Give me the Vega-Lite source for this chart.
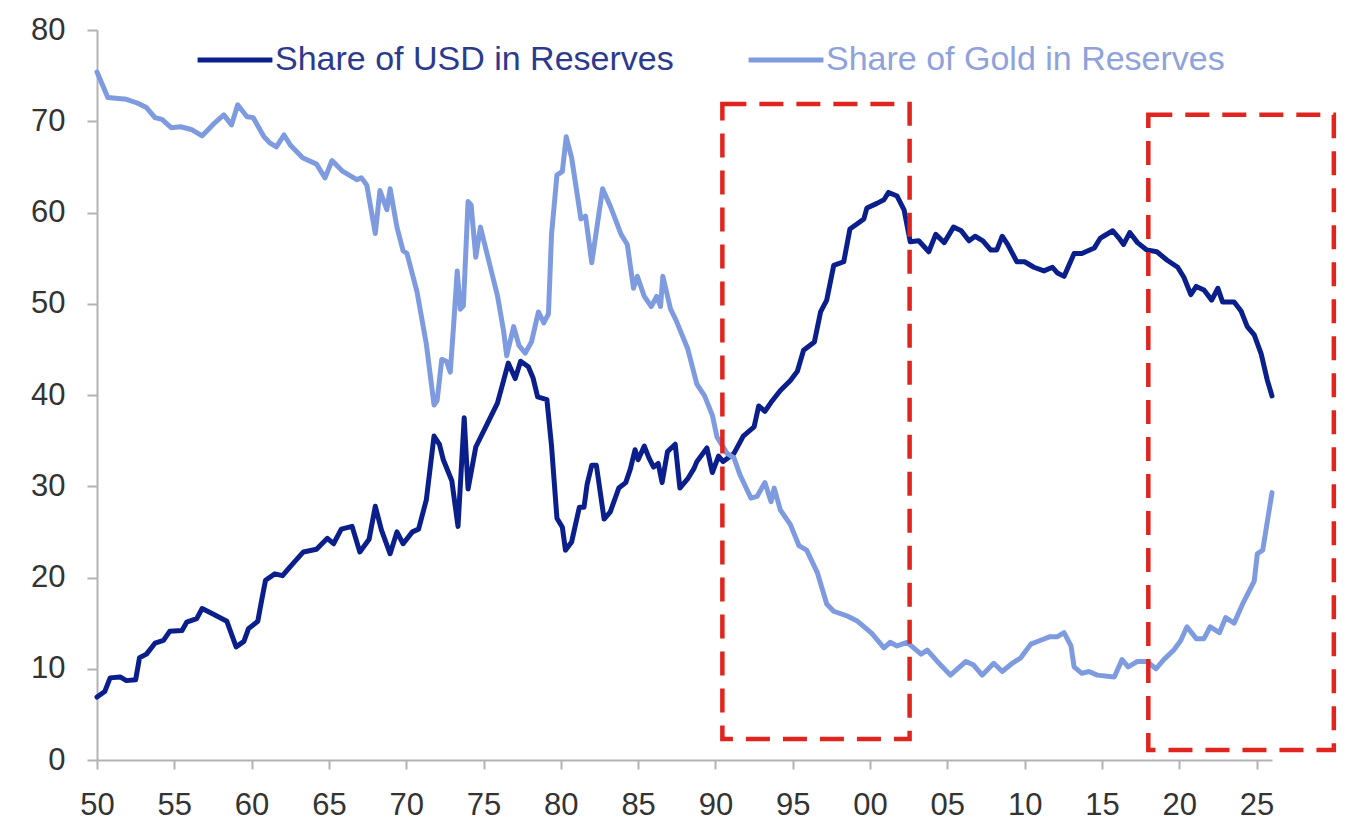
{
  "$schema": "https://vega.github.io/schema/vega-lite/v6.json",
  "width": 1175,
  "height": 730,
  "autosize": {"type": "none"},
  "padding": {"left": 97, "top": 30, "right": 76, "bottom": 78},
  "background": "white",
  "config": {
    "view": {"stroke": null},
    "font": "Liberation Sans",
    "axis": {
      "grid": false,
      "title": null,
      "domainColor": "#b3b3b3",
      "domainWidth": 2,
      "tickColor": "#b3b3b3",
      "tickWidth": 2,
      "labelColor": "#333333",
      "labelFont": "Liberation Sans",
      "labelFontSize": 31
    }
  },
  "datasets": {
    "usd": [
      {"t": 1950.0, "v": 6.9}, {"t": 1950.5, "v": 7.5}, {"t": 1950.85, "v": 9.0}, {"t": 1951.5, "v": 9.1},
      {"t": 1951.9, "v": 8.7}, {"t": 1952.5, "v": 8.8}, {"t": 1952.75, "v": 11.2}, {"t": 1953.2, "v": 11.6},
      {"t": 1953.75, "v": 12.8}, {"t": 1954.3, "v": 13.1}, {"t": 1954.7, "v": 14.1}, {"t": 1955.5, "v": 14.2},
      {"t": 1955.8, "v": 15.1}, {"t": 1956.45, "v": 15.5}, {"t": 1956.8, "v": 16.6}, {"t": 1957.5, "v": 16.0},
      {"t": 1958.4, "v": 15.2}, {"t": 1958.7, "v": 13.8}, {"t": 1959.0, "v": 12.4}, {"t": 1959.5, "v": 13.0},
      {"t": 1959.8, "v": 14.4}, {"t": 1960.4, "v": 15.2}, {"t": 1960.65, "v": 17.5}, {"t": 1960.9, "v": 19.7},
      {"t": 1961.5, "v": 20.4}, {"t": 1962.0, "v": 20.2}, {"t": 1962.5, "v": 21.2}, {"t": 1963.35, "v": 22.8},
      {"t": 1964.2, "v": 23.1}, {"t": 1964.9, "v": 24.3}, {"t": 1965.3, "v": 23.7}, {"t": 1965.8, "v": 25.3},
      {"t": 1966.5, "v": 25.6}, {"t": 1967.0, "v": 22.8}, {"t": 1967.6, "v": 24.2}, {"t": 1968.0, "v": 27.8},
      {"t": 1968.4, "v": 25.2}, {"t": 1968.96, "v": 22.6}, {"t": 1969.4, "v": 25.0}, {"t": 1969.8, "v": 23.7},
      {"t": 1970.4, "v": 25.0}, {"t": 1970.8, "v": 25.3}, {"t": 1971.3, "v": 28.5}, {"t": 1971.8, "v": 35.5},
      {"t": 1972.15, "v": 34.6}, {"t": 1972.4, "v": 32.9}, {"t": 1972.95, "v": 30.6}, {"t": 1973.35, "v": 25.6},
      {"t": 1973.75, "v": 37.5}, {"t": 1974.0, "v": 29.7}, {"t": 1974.5, "v": 34.3}, {"t": 1975.2, "v": 36.7},
      {"t": 1975.9, "v": 39.1}, {"t": 1976.3, "v": 41.6}, {"t": 1976.6, "v": 43.5}, {"t": 1977.05, "v": 41.8},
      {"t": 1977.4, "v": 43.7}, {"t": 1977.9, "v": 43.1}, {"t": 1978.2, "v": 41.9}, {"t": 1978.5, "v": 39.8},
      {"t": 1979.1, "v": 39.5}, {"t": 1979.4, "v": 34.4}, {"t": 1979.75, "v": 26.5}, {"t": 1980.1, "v": 25.5},
      {"t": 1980.3, "v": 23.0}, {"t": 1980.7, "v": 23.9}, {"t": 1981.2, "v": 27.7}, {"t": 1981.5, "v": 27.7},
      {"t": 1981.7, "v": 30.2}, {"t": 1982.0, "v": 32.3}, {"t": 1982.3, "v": 32.3}, {"t": 1982.8, "v": 26.4},
      {"t": 1983.2, "v": 27.2}, {"t": 1983.75, "v": 29.8}, {"t": 1984.2, "v": 30.4}, {"t": 1984.5, "v": 31.9},
      {"t": 1984.8, "v": 34.0}, {"t": 1985.0, "v": 32.9}, {"t": 1985.4, "v": 34.4}, {"t": 1985.7, "v": 33.1},
      {"t": 1986.0, "v": 32.1}, {"t": 1986.3, "v": 32.5}, {"t": 1986.55, "v": 30.4}, {"t": 1986.9, "v": 33.8},
      {"t": 1987.4, "v": 34.6}, {"t": 1987.7, "v": 29.8}, {"t": 1988.2, "v": 30.8}, {"t": 1988.6, "v": 31.9},
      {"t": 1988.8, "v": 32.7}, {"t": 1989.45, "v": 34.2}, {"t": 1989.8, "v": 31.5}, {"t": 1990.2, "v": 33.3},
      {"t": 1990.5, "v": 32.7}, {"t": 1991.2, "v": 33.6}, {"t": 1991.8, "v": 35.5}, {"t": 1992.5, "v": 36.5},
      {"t": 1992.8, "v": 38.8}, {"t": 1993.2, "v": 38.2}, {"t": 1993.6, "v": 39.2}, {"t": 1994.2, "v": 40.5},
      {"t": 1994.85, "v": 41.6}, {"t": 1995.3, "v": 42.6}, {"t": 1995.7, "v": 44.9}, {"t": 1996.4, "v": 45.8},
      {"t": 1996.8, "v": 49.1}, {"t": 1997.2, "v": 50.4}, {"t": 1997.65, "v": 54.2}, {"t": 1998.3, "v": 54.6},
      {"t": 1998.7, "v": 58.2}, {"t": 1999.2, "v": 58.8}, {"t": 1999.6, "v": 59.3}, {"t": 1999.8, "v": 60.5},
      {"t": 2000.45, "v": 61.0}, {"t": 2000.9, "v": 61.4}, {"t": 2001.2, "v": 62.2}, {"t": 2001.75, "v": 61.8},
      {"t": 2002.2, "v": 60.3}, {"t": 2002.6, "v": 56.8}, {"t": 2003.15, "v": 56.9}, {"t": 2003.8, "v": 55.7},
      {"t": 2004.25, "v": 57.6}, {"t": 2004.8, "v": 56.7}, {"t": 2005.4, "v": 58.4}, {"t": 2005.9, "v": 58.0},
      {"t": 2006.4, "v": 56.9}, {"t": 2006.8, "v": 57.4}, {"t": 2007.3, "v": 56.9}, {"t": 2007.8, "v": 55.9},
      {"t": 2008.2, "v": 55.9}, {"t": 2008.55, "v": 57.4}, {"t": 2008.9, "v": 56.5}, {"t": 2009.5, "v": 54.6},
      {"t": 2010.0, "v": 54.6}, {"t": 2010.6, "v": 54.0}, {"t": 2011.25, "v": 53.6}, {"t": 2011.8, "v": 54.0},
      {"t": 2012.1, "v": 53.4}, {"t": 2012.55, "v": 53.0}, {"t": 2013.2, "v": 55.5}, {"t": 2013.7, "v": 55.5},
      {"t": 2014.5, "v": 56.1}, {"t": 2014.9, "v": 57.2}, {"t": 2015.1, "v": 57.4}, {"t": 2015.7, "v": 58.0},
      {"t": 2016.1, "v": 57.2}, {"t": 2016.4, "v": 56.5}, {"t": 2016.8, "v": 57.8}, {"t": 2017.3, "v": 56.7},
      {"t": 2017.9, "v": 55.9}, {"t": 2018.55, "v": 55.7}, {"t": 2019.2, "v": 54.8}, {"t": 2019.9, "v": 54.0},
      {"t": 2020.3, "v": 52.9}, {"t": 2020.75, "v": 51.0}, {"t": 2021.1, "v": 51.9}, {"t": 2021.6, "v": 51.5},
      {"t": 2022.1, "v": 50.4}, {"t": 2022.5, "v": 51.7}, {"t": 2022.8, "v": 50.2}, {"t": 2023.55, "v": 50.2},
      {"t": 2024.0, "v": 49.2}, {"t": 2024.4, "v": 47.5}, {"t": 2024.85, "v": 46.6}, {"t": 2025.3, "v": 44.5},
      {"t": 2025.7, "v": 41.6}, {"t": 2026.0, "v": 39.9}
    ],
    "gold": [
      {"t": 1950.0, "v": 75.4}, {"t": 1950.7, "v": 72.6}, {"t": 1951.9, "v": 72.4}, {"t": 1952.6, "v": 72.0},
      {"t": 1953.2, "v": 71.5}, {"t": 1953.75, "v": 70.4}, {"t": 1954.2, "v": 70.2}, {"t": 1954.8, "v": 69.3},
      {"t": 1955.4, "v": 69.4}, {"t": 1956.1, "v": 69.1}, {"t": 1956.8, "v": 68.4}, {"t": 1957.2, "v": 69.1},
      {"t": 1957.6, "v": 69.8}, {"t": 1958.2, "v": 70.7}, {"t": 1958.7, "v": 69.6}, {"t": 1959.1, "v": 71.8},
      {"t": 1959.7, "v": 70.5}, {"t": 1960.1, "v": 70.4}, {"t": 1960.8, "v": 68.3}, {"t": 1961.2, "v": 67.6},
      {"t": 1961.6, "v": 67.2}, {"t": 1962.1, "v": 68.5}, {"t": 1962.5, "v": 67.4}, {"t": 1963.3, "v": 66.0},
      {"t": 1964.2, "v": 65.3}, {"t": 1964.75, "v": 63.8}, {"t": 1965.2, "v": 65.7}, {"t": 1965.9, "v": 64.5},
      {"t": 1966.8, "v": 63.6}, {"t": 1967.1, "v": 63.8}, {"t": 1967.45, "v": 63.0}, {"t": 1968.0, "v": 57.7},
      {"t": 1968.3, "v": 62.4}, {"t": 1968.75, "v": 60.3}, {"t": 1968.96, "v": 62.6}, {"t": 1969.4, "v": 58.4},
      {"t": 1969.8, "v": 55.8}, {"t": 1970.05, "v": 55.5}, {"t": 1970.7, "v": 51.3}, {"t": 1971.3, "v": 45.6},
      {"t": 1971.8, "v": 38.9}, {"t": 1972.0, "v": 39.4}, {"t": 1972.3, "v": 43.9}, {"t": 1972.6, "v": 43.7},
      {"t": 1972.85, "v": 42.5}, {"t": 1973.06, "v": 47.5}, {"t": 1973.3, "v": 53.6}, {"t": 1973.5, "v": 49.4},
      {"t": 1973.7, "v": 49.8}, {"t": 1974.0, "v": 61.2}, {"t": 1974.2, "v": 60.8}, {"t": 1974.5, "v": 55.1},
      {"t": 1974.8, "v": 58.4}, {"t": 1975.4, "v": 54.3}, {"t": 1975.9, "v": 50.9}, {"t": 1976.3, "v": 47.0},
      {"t": 1976.5, "v": 44.3}, {"t": 1976.95, "v": 47.5}, {"t": 1977.3, "v": 45.4}, {"t": 1977.7, "v": 44.6},
      {"t": 1978.1, "v": 45.8}, {"t": 1978.55, "v": 49.1}, {"t": 1978.9, "v": 47.9}, {"t": 1979.2, "v": 48.9},
      {"t": 1979.4, "v": 57.6}, {"t": 1979.75, "v": 64.1}, {"t": 1980.1, "v": 64.5}, {"t": 1980.35, "v": 68.3},
      {"t": 1980.7, "v": 66.0}, {"t": 1981.3, "v": 59.3}, {"t": 1981.6, "v": 59.6}, {"t": 1982.0, "v": 54.5},
      {"t": 1982.7, "v": 62.6}, {"t": 1983.2, "v": 60.7}, {"t": 1983.9, "v": 57.6}, {"t": 1984.3, "v": 56.5},
      {"t": 1984.7, "v": 51.7}, {"t": 1984.95, "v": 53.0}, {"t": 1985.4, "v": 50.8}, {"t": 1985.85, "v": 49.7},
      {"t": 1986.2, "v": 50.8}, {"t": 1986.45, "v": 49.7}, {"t": 1986.6, "v": 53.0}, {"t": 1987.1, "v": 49.4},
      {"t": 1987.45, "v": 48.2}, {"t": 1988.2, "v": 45.1}, {"t": 1988.8, "v": 41.2}, {"t": 1989.3, "v": 39.9},
      {"t": 1989.8, "v": 37.8}, {"t": 1990.1, "v": 35.4}, {"t": 1990.75, "v": 33.6}, {"t": 1991.2, "v": 33.1},
      {"t": 1991.6, "v": 31.2}, {"t": 1992.3, "v": 28.7}, {"t": 1992.7, "v": 28.9}, {"t": 1993.2, "v": 30.4},
      {"t": 1993.6, "v": 28.3}, {"t": 1993.8, "v": 29.8}, {"t": 1994.2, "v": 27.4}, {"t": 1994.85, "v": 25.8},
      {"t": 1995.4, "v": 23.5}, {"t": 1995.9, "v": 23.0}, {"t": 1996.6, "v": 20.5}, {"t": 1997.2, "v": 17.1},
      {"t": 1997.65, "v": 16.3}, {"t": 1998.5, "v": 15.8}, {"t": 1999.2, "v": 15.2}, {"t": 2000.1, "v": 13.9},
      {"t": 2000.9, "v": 12.3}, {"t": 2001.3, "v": 12.9}, {"t": 2001.75, "v": 12.5}, {"t": 2002.4, "v": 12.9},
      {"t": 2003.3, "v": 11.6}, {"t": 2003.7, "v": 12.05}, {"t": 2004.35, "v": 10.8}, {"t": 2005.2, "v": 9.3},
      {"t": 2006.2, "v": 10.8}, {"t": 2006.7, "v": 10.4}, {"t": 2007.25, "v": 9.3}, {"t": 2008.0, "v": 10.6},
      {"t": 2008.55, "v": 9.7}, {"t": 2009.2, "v": 10.6}, {"t": 2009.75, "v": 11.2}, {"t": 2010.4, "v": 12.7},
      {"t": 2011.0, "v": 13.1}, {"t": 2011.6, "v": 13.5}, {"t": 2012.1, "v": 13.5}, {"t": 2012.55, "v": 13.95},
      {"t": 2013.0, "v": 12.5}, {"t": 2013.2, "v": 10.2}, {"t": 2013.7, "v": 9.5}, {"t": 2014.15, "v": 9.7},
      {"t": 2014.7, "v": 9.3}, {"t": 2015.8, "v": 9.1}, {"t": 2016.3, "v": 11.0}, {"t": 2016.7, "v": 10.2},
      {"t": 2017.3, "v": 10.8}, {"t": 2017.9, "v": 10.8}, {"t": 2018.5, "v": 10.0}, {"t": 2019.0, "v": 11.0},
      {"t": 2019.65, "v": 12.05}, {"t": 2020.1, "v": 13.1}, {"t": 2020.5, "v": 14.6}, {"t": 2021.1, "v": 13.3},
      {"t": 2021.6, "v": 13.3}, {"t": 2022.0, "v": 14.6}, {"t": 2022.6, "v": 13.95}, {"t": 2023.0, "v": 15.6},
      {"t": 2023.55, "v": 15.0}, {"t": 2024.1, "v": 17.1}, {"t": 2024.85, "v": 19.6}, {"t": 2025.05, "v": 22.6},
      {"t": 2025.4, "v": 23.0}, {"t": 2026.0, "v": 29.3}
    ],
    "boxes": [
      {"from": 1990.45, "to": 2002.56, "low": 2.3, "high": 71.9},
      {"from": 2018.0, "to": 2030.0, "low": 1.1, "high": 70.7}
    ]
  },
  "layer": [
    {
      "data": {"name": "usd"},
      "mark": {"type": "line", "strokeWidth": 5, "strokeJoin": "round", "strokeCap": "round"},
      "encoding": {
        "x": {
          "field": "t",
          "type": "quantitative",
          "scale": {"domain": [1950, 2026], "nice": false, "zero": false},
          "axis": {
            "values": [1950, 1955, 1960, 1965, 1970, 1975, 1980, 1985, 1990, 1995, 2000, 2005, 2010, 2015, 2020, 2025],
            "labelExpr": "format(datum.value % 100, '02d')",
            "labelFlush": false,
            "labelOverlap": false,
            "tickSize": 9,
            "labelPadding": 21
          }
        },
        "y": {
          "field": "v",
          "type": "quantitative",
          "scale": {"domain": [0, 80], "nice": false},
          "axis": {
            "values": [0, 10, 20, 30, 40, 50, 60, 70, 80],
            "labelFlush": false,
            "tickSize": 10,
            "labelPadding": 22
          }
        },
        "color": {
          "datum": "Share of USD in Reserves",
          "type": "nominal",
          "scale": {
            "domain": ["Share of USD in Reserves", "Share of Gold in Reserves"],
            "range": ["#0b1f8c", "#7f9be0"]
          },
          "legend": {
            "title": null,
            "orient": "none",
            "legendX": 98,
            "legendY": -10,
            "direction": "horizontal",
            "symbolType": "stroke",
            "symbolSize": 5600,
            "symbolStrokeWidth": 5,
            "labelFont": "Liberation Sans",
            "labelFontSize": 34,
            "labelOffset": 0,
            "columnPadding": 64,
            "labelLimit": 700,
            "encode": {
              "labels": {
                "update": {
                  "fill": {"signal": "datum.value === 'Share of USD in Reserves' ? '#2c3a8e' : '#8fa2da'"}
                }
              }
            }
          }
        }
      }
    },
    {
      "data": {"name": "gold"},
      "mark": {"type": "line", "strokeWidth": 5, "strokeJoin": "round", "strokeCap": "round"},
      "encoding": {
        "x": {"field": "t", "type": "quantitative"},
        "y": {"field": "v", "type": "quantitative"},
        "color": {"datum": "Share of Gold in Reserves", "type": "nominal"}
      }
    },
    {
      "data": {"name": "boxes"},
      "mark": {"type": "rect", "filled": false, "stroke": "#e0251f", "strokeWidth": 4.5, "strokeDash": [24, 13]},
      "encoding": {
        "x": {"field": "from", "type": "quantitative"},
        "x2": {"field": "to"},
        "y": {"field": "low", "type": "quantitative"},
        "y2": {"field": "high"}
      }
    }
  ]
}
